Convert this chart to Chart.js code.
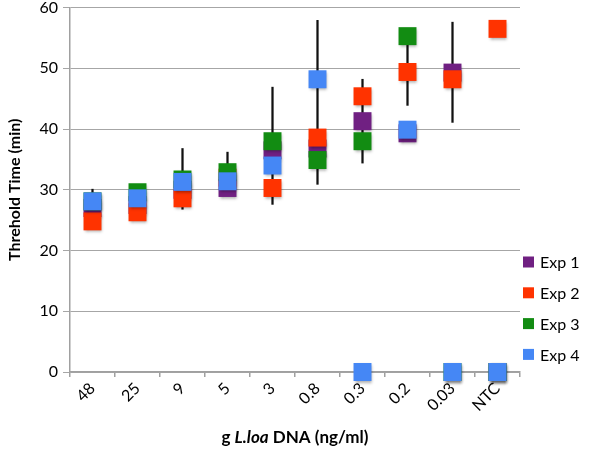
<!DOCTYPE html>
<html><head><meta charset="utf-8">
<script src="https://cdn.jsdelivr.net/npm/chart.js@4.4.1/dist/chart.umd.min.js"></script>
<style>html,body{margin:0;padding:0;background:#fff;overflow:hidden;}#wrap{width:610px;height:453px;position:relative;overflow:hidden;}#c{position:absolute;left:0;top:-7px;}</style>
</head><body><div id="wrap"><canvas id="c" width="610" height="460"></canvas></div>
<script>
const categories = ['48', '25', '9', '5', '3', '0.8', '0.3', '0.2', '0.03', 'NTC'];
const exp1 = [27, 27.5, 30, 30.3, 36.5, 36.8, 41.3, 39.3, 49.3, 0];
const exp2 = [24.8, 26.3, 28.6, 32, 30.3, 38.6, 45.4, 49.4, 48.2, 56.5];
const exp3 = [28.1, 29.6, 31.7, 32.9, 38.0, 34.9, 38.0, 55.3, 0, 0];
const exp4 = [28.1, 28.6, 31.3, 31.4, 34.0, 48.2, 0, 39.9, 0, 0];
const errLow = [25, null, 26.8, 30, 27.6, 30.9, 34.4, 43.9, 41.1, null];
const errHigh = [30.1, null, 36.8, 36.2, 46.9, 57.9, 48.2, 54, 57.6, null];
const yTicks = [0, 10, 20, 30, 40, 50, 60];
const seriesNames = ['Exp 1', 'Exp 2', 'Exp 3', 'Exp 4'];
const seriesColors = ['#702082', '#ff3300', '#128c12', '#4587f5'];
const yTitle = 'Threhold Time (min)';
const xTitleParts = [['g ', false], ['L.loa', true], [' DNA (ng/ml)', false]];

const SHIFT = 7;
const seriesData = [exp1, exp2, exp3, exp4];
const datasets = seriesData.map((d, i) => ({
  type: 'line',
  label: seriesNames[i],
  data: d,
  showLine: false,
  pointStyle: 'rect',
  pointRadius: 12.7,
  pointHoverRadius: 12.7,
  pointBorderWidth: 0,
  pointBackgroundColor: seriesColors[i],
  pointBorderColor: seriesColors[i],
  backgroundColor: seriesColors[i],
  borderColor: seriesColors[i],
  order: 4 - i,
  clip: false
}));
datasets.push({
  type: 'bar',
  label: 'err',
  data: errLow.map((l, i) => (l === null ? null : [l, errHigh[i]])),
  backgroundColor: '#111',
  borderWidth: 0,
  barThickness: 1.6,
  order: 10,
  clip: false
});

const shadowPlugin = {
  id: 'shadow',
  beforeDatasetDraw(chart, args) {
    if (chart.data.datasets[args.index].type === 'line') {
      const ctx = chart.ctx;
      ctx.save();
      ctx.shadowColor = 'rgba(0,0,0,0.35)';
      ctx.shadowBlur = 3;
      ctx.shadowOffsetX = 1;
      ctx.shadowOffsetY = 2;
    }
  },
  afterDatasetDraw(chart, args) {
    if (chart.data.datasets[args.index].type === 'line') chart.ctx.restore();
  }
};

const legendPlugin = {
  id: 'customLegend',
  afterDraw(chart) {
    const ctx = chart.ctx;
    ctx.save();
    ctx.font = '16px Lato';
    ctx.textBaseline = 'middle';
    const startY = 262 + SHIFT, step = 30.8, bx = 523;
    seriesNames.forEach((name, i) => {
      const cy = startY + i * step;
      ctx.fillStyle = seriesColors[i];
      ctx.fillRect(bx, cy - 5.5, 11, 11);
      ctx.fillStyle = '#000';
      ctx.fillText(name, bx + 17, cy + 1);
    });
    ctx.restore();
  }
};

const xTitlePlugin = {
  id: 'xTitle',
  afterDraw(chart) {
    const ctx = chart.ctx;
    const ca = chart.chartArea;
    ctx.save();
    ctx.textBaseline = 'middle';
    ctx.fillStyle = '#000';
    const fonts = xTitleParts.map(p => (p[1] ? 'italic bold 17px Lato' : 'bold 17px Lato'));
    let total = 0;
    const widths = xTitleParts.map((p, i) => { ctx.font = fonts[i]; const w = ctx.measureText(p[0]).width; total += w; return w; });
    let x = (ca.left + ca.right) / 2 - total / 2;
    xTitleParts.forEach((p, i) => { ctx.font = fonts[i]; ctx.fillText(p[0], x, 438 + SHIFT); x += widths[i]; });
    ctx.restore();
  }
};

new Chart(document.getElementById('c'), {
  data: { labels: categories, datasets },
  options: {
    responsive: false,
    animation: false,
    layout: { padding: { top: 0, right: 90, left: 0, bottom: 0 } },
    plugins: { legend: { display: false }, tooltip: { enabled: false } },
    scales: {
      x: {
        type: 'category',
        offset: true,
        grid: { display: true, drawOnChartArea: false, drawTicks: true, tickLength: 5, color: '#a0a0a0', offset: true, lineWidth: 1.5 },
        border: { display: true, color: '#a0a0a0', width: 1.5 },
        ticks: { font: { family: 'Lato', size: 16 }, color: '#000', minRotation: 45, maxRotation: 45, autoSkip: false, padding: 2 },
        afterFit(s) { s.height = 81; }
      },
      y: {
        min: 0, max: 60,
        afterBuildTicks(s) { s.ticks = yTicks.map(v => ({ value: v })); },
        grid: { color: '#a6a6a6', lineWidth: 1, tickLength: 7 },
        border: { display: true, color: '#a0a0a0', width: 1.5 },
        ticks: { font: { family: 'Lato', size: 16 }, color: '#000', padding: 5 },
        title: { display: true, text: yTitle, font: { family: 'Lato', size: 16, weight: 'bold' }, color: '#000', padding: { top: 5, bottom: 0 } },
        afterFit(s) { s.width = 70; }
      }
    }
  },
  plugins: [shadowPlugin, legendPlugin, xTitlePlugin]
});
</script></body></html>
